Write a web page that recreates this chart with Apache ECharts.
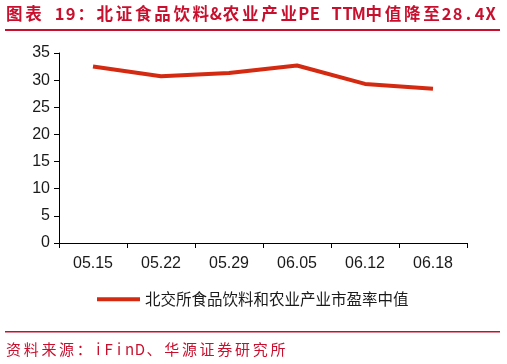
<!DOCTYPE html>
<html><head><meta charset="utf-8">
<script src="https://cdn.jsdelivr.net/npm/echarts@6/dist/echarts.min.js"></script>
<style>html,body{margin:0;padding:0;background:#fff}#c{width:507px;height:364px}</style>
</head><body><div id="c"></div>
<script>
var categories = ['05.15','05.22','05.29','06.05','06.12','06.18'];
var peMedian = [32.5, 30.7, 31.3, 32.7, 29.3, 28.4];
var seriesName = '北交所食品饮料和农业产业市盈率中值';
var titleText = '图表 19：北证食品饮料&农业产业PE TTM中值降至28.4X';
var sourceText = '资料来源：iFinD、华源证券研究所';

// Lay out each character in a fixed-width cell (full width for CJK, half for Latin)
function spaced(s){
  return s.split('').map(function(ch){
    var wide = ch.charCodeAt(0) > 255;
    return '{' + (wide ? 'w' : 'n') + '|' + ch + '}';
  }).join('');
}

var chart = echarts.init(document.getElementById('c'));
chart.setOption({
  animation: false,
  grid: {left: 59, right: 40, top: 53, bottom: 121},
  xAxis: {
    type: 'category', data: categories, boundaryGap: true,
    axisLine: {lineStyle: {color: '#000', width: 1}},
    axisTick: {show: true, length: 5, inside: false, lineStyle: {color: '#000'}},
    axisLabel: {color: '#1a1a1a', fontSize: 16, fontFamily: 'Arial, Liberation Sans', margin: 13}
  },
  yAxis: {
    type: 'value', min: 0, max: 35, interval: 5,
    axisLine: {show: true, lineStyle: {color: '#000', width: 1}},
    axisTick: {show: true, length: 5, lineStyle: {color: '#000'}},
    splitLine: {show: false},
    axisLabel: {color: '#1a1a1a', fontSize: 16, fontFamily: 'Arial, Liberation Sans', margin: 9}
  },
  legend: {
    data: [seriesName], bottom: 52, left: 92, itemWidth: 43, itemHeight: 4, itemGap: 5,
    icon: 'rect',
    textStyle: {color: '#1a1a1a', fontSize: 15.5, fontFamily: 'Noto Sans CJK SC'}
  },
  series: [{
    name: seriesName, type: 'line', data: peMedian, showSymbol: false,
    lineStyle: {color: '#D42A12', width: 4}, itemStyle: {color: '#D42A12'}
  }],
  graphic: [
    {type: 'text', left: 6, top: 5, style: {text: spaced(titleText), rich: {
      w: {fill: '#C8102E', fontSize: 16.5, fontWeight: 'bold', fontFamily: 'Noto Sans CJK SC', width: 19.2, align: 'center'},
      n: {fill: '#C8102E', fontSize: 16.5, fontWeight: 'bold', fontFamily: 'Noto Sans CJK SC', width: 11, align: 'center'}
    }}},
    {type: 'rect', shape: {x: 5, y: 29, width: 495, height: 2}, style: {fill: '#C8102E'}},
    {type: 'rect', shape: {x: 5, y: 331, width: 495, height: 1.5}, style: {fill: '#C8102E'}},
    {type: 'text', left: 6, top: 342, style: {text: spaced(sourceText), rich: {
      w: {fill: '#C8102E', fontSize: 15, fontFamily: 'Noto Sans CJK SC', width: 17.7, align: 'center'},
      n: {fill: '#C8102E', fontSize: 15, fontFamily: 'Noto Sans CJK SC', width: 10.4, align: 'center'}
    }}}
  ]
});
</script></body></html>
